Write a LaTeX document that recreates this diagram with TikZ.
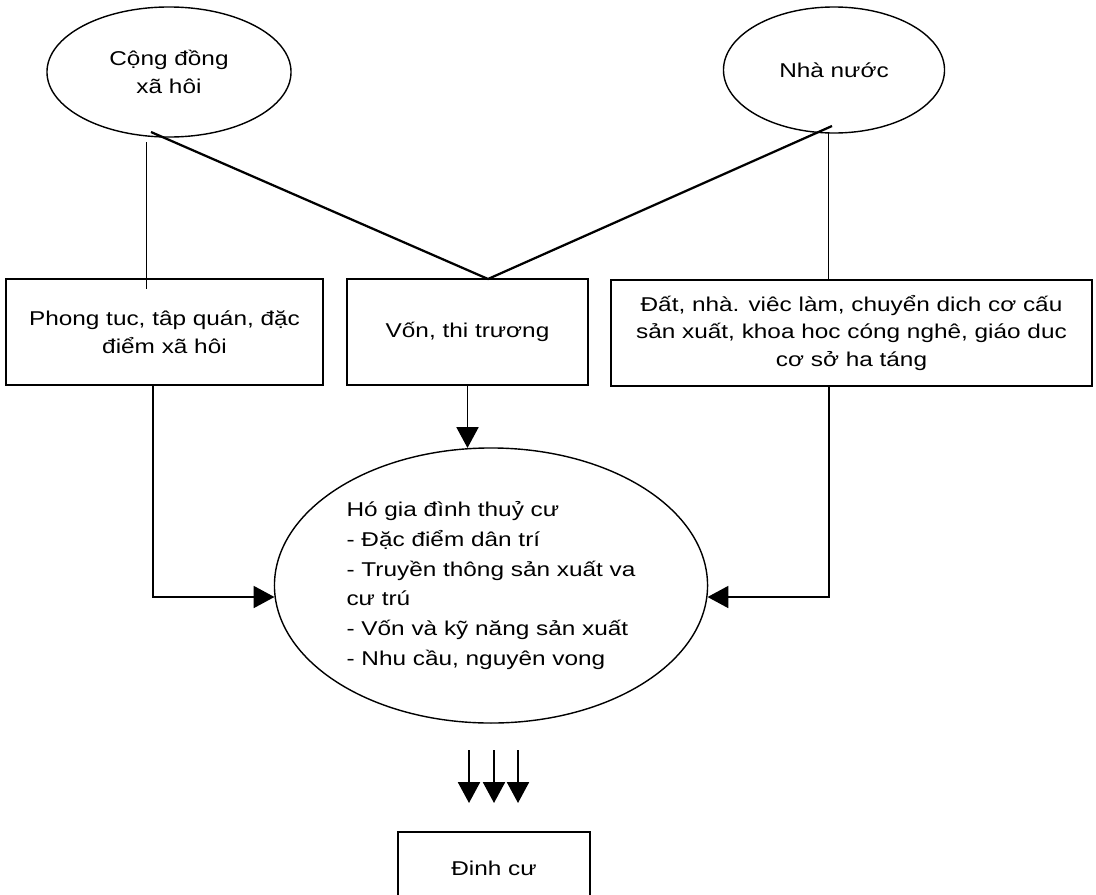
\documentclass[tikz,border=0pt]{standalone}
\usepackage{fontspec}
\setmainfont[FakeStretch=1.22]{Liberation Sans}
\usetikzlibrary{shapes,calc,arrows.meta}
\newcommand\fs{\fontsize{14.2pt}{19.9pt}\selectfont}
\newcommand\fsb{\fontsize{14.2pt}{21.3pt}\selectfont}

\begin{document}
\begin{tikzpicture}[x=0.025cm,y=-0.025cm,
  box/.style={draw,line width=1.3pt,inner sep=0pt,outer sep=0pt,align=center,font=\fs},
  oval/.style={draw,ellipse,line width=1pt,inner sep=0pt,outer sep=0pt,align=center,font=\fs},
  arr/.style={line width=1.2pt,-{Triangle[length=0.52cm,width=0.55cm]}}]
\useasboundingbox (0,0) rectangle (1096,894);
\clip (0,0) rectangle (1096,894);

\node (coll) [oval, minimum width=6.1cm, minimum height=3.25cm] at (169,72) {Cộng đồng\\xã hôi};
\node (state) [oval, minimum width=5.525cm, minimum height=3.15cm] at (834,70) {\raisebox{-0.3cm}{Nhà nước}};
\node (custom) [box, minimum width=7.925cm, minimum height=2.65cm] at (164.5,332) {Phong tuc, tâp quán, đặc\\điểm xã hôi};
\node (capital) [box, minimum width=6.025cm, minimum height=2.65cm] at (467.5,332) {Vốn, thi trương};
\node (policy) [box, minimum width=12.025cm, minimum height=2.65cm] at (851.5,333) {Đất, nhà. viêc làm, chuyển dich cơ cấu\\sản xuất, khoa hoc cóng nghê, giáo duc\\cơ sở ha táng};
\node (household) [oval, minimum width=10.825cm, minimum height=6.875cm, align=left, font=\fsb] at (491,585.5) {Hó gia đình thuỷ cư\\- Đặc điểm dân trí\\- Truyền thông sản xuất va\\cư trú\\- Vốn và kỹ năng sản xuất\\- Nhu cầu, nguyên vong};
\node (settle) [box, minimum width=4.8cm, minimum height=1.8cm] at (494,868) {Đinh cư};

% lines from the two ovals
\coordinate (apex) at ($(capital.north)+(20.5,0)$);
\draw[line width=1.6pt] ($(coll.south)+(-18,-5)$) -- (apex) -- ($(state.south)+(-2,-7)$);
\draw[line width=0.6pt] ($(coll.south)+(-23,5)$) -- ($(custom.north)+(-18.5,10)$);
\draw[line width=0.6pt] ($(state.south)+(-6,0)$) -- ($(policy.north)+(-23.5,0)$);

% arrows into the household
\draw[arr] (capital.south) -- (capital.south |- household.north);
\draw[arr] ($(custom.south)+(-11.5,0)$) |- ($(household.west)+(0,11.5)$);
\draw[arr] ($(policy.south)+(-22.5,0)$) |- ($(household.east)+(0,11.5)$);
\foreach \dx in {-25,0,24}
  \draw[arr] ($(settle.north)+(\dx,-82)$) -- ($(settle.north)+(\dx,-29)$);
\end{tikzpicture}
\end{document}
